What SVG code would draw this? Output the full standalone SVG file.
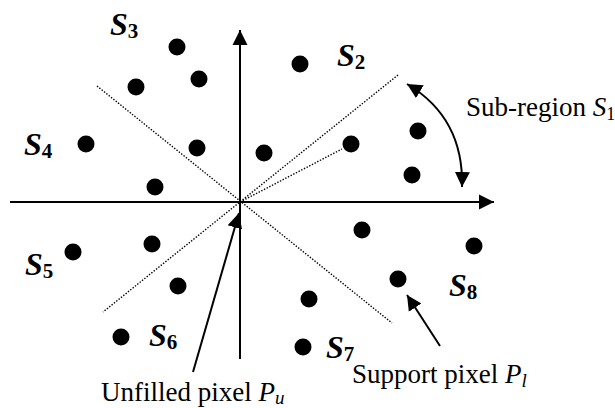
<svg xmlns="http://www.w3.org/2000/svg" width="615" height="408" viewBox="0 0 615 408">
<style>
.ax{stroke:#000;stroke-width:2;fill:none}
.dot{stroke:#000;stroke-width:1.4;stroke-dasharray:1.4 1.6;fill:none}
.pt{fill:#000}
.lbl{font-family:"Liberation Serif","Times New Roman",serif;font-size:32px;font-weight:bold;font-style:italic;fill:#000}
.sub{font-style:normal;font-size:21px}
.txt{font-family:"Liberation Serif","Times New Roman",serif;font-size:27px;fill:#000}
.it{font-style:italic}
.isub{font-style:italic;font-size:19px}
</style>
<defs>
<marker id="ah" markerWidth="16" markerHeight="16" viewBox="0 0 16 16" refX="15" refY="8" orient="auto-start-reverse" markerUnits="userSpaceOnUse">
<path d="M0,0.5 L15,8 L0,15.5 Z" fill="#000"/>
</marker>
</defs>
<g id="connectors">
<line class="ax" x1="10" y1="202" x2="494" y2="202" marker-end="url(#ah)"/>
<line class="ax" x1="240" y1="359" x2="240" y2="30" marker-end="url(#ah)"/>
<line class="dot" x1="97" y1="86" x2="392" y2="323"/>
<line class="dot" x1="398" y1="75" x2="103" y2="312"/>
<line class="dot" x1="240" y1="202" x2="342" y2="149"/>
<path class="ax" d="M407,84 Q464,118 462,187" marker-start="url(#ah)" marker-end="url(#ah)"/>
<line class="ax" x1="193" y1="372" x2="239" y2="213" marker-end="url(#ah)"/>
<line class="ax" x1="440" y1="346" x2="407" y2="295" marker-end="url(#ah)"/>
</g>
<g id="points">
<circle class="pt" cx="177" cy="47" r="8.5"/>
<circle class="pt" cx="199" cy="79" r="8.5"/>
<circle class="pt" cx="136" cy="87" r="8.5"/>
<circle class="pt" cx="300" cy="64" r="8.5"/>
<circle class="pt" cx="86" cy="144" r="8.5"/>
<circle class="pt" cx="197" cy="148" r="8.5"/>
<circle class="pt" cx="264" cy="153" r="8.5"/>
<circle class="pt" cx="155" cy="187" r="8.5"/>
<circle class="pt" cx="418" cy="131" r="8.5"/>
<circle class="pt" cx="351" cy="144" r="8.5"/>
<circle class="pt" cx="412" cy="175" r="8.5"/>
<circle class="pt" cx="73" cy="252" r="8.5"/>
<circle class="pt" cx="152" cy="244" r="8.5"/>
<circle class="pt" cx="178" cy="286" r="8.5"/>
<circle class="pt" cx="121" cy="337" r="8.5"/>
<circle class="pt" cx="309" cy="299" r="8.5"/>
<circle class="pt" cx="303" cy="347" r="8.5"/>
<circle class="pt" cx="362" cy="230" r="8.5"/>
<circle class="pt" cx="474" cy="246" r="8.5"/>
<circle class="pt" cx="398" cy="279" r="8.5"/>
</g>
<g id="S1"><text class="txt" x="466" y="116" font-size="26">Sub-region <tspan class="it">S</tspan><tspan dy="4" font-size="18">1</tspan></text></g>
<g id="S2"><text class="lbl" x="337" y="66">S<tspan class="sub" dy="3">2</tspan></text></g>
<g id="S3"><text class="lbl" x="110" y="35">S<tspan class="sub" dy="3">3</tspan></text></g>
<g id="S4"><text class="lbl" x="24" y="155">S<tspan class="sub" dy="3">4</tspan></text></g>
<g id="S5"><text class="lbl" x="25" y="275">S<tspan class="sub" dy="3">5</tspan></text></g>
<g id="S6"><text class="lbl" x="149" y="346">S<tspan class="sub" dy="3">6</tspan></text></g>
<g id="S7"><text class="lbl" x="326" y="358">S<tspan class="sub" dy="3">7</tspan></text></g>
<g id="S8"><text class="lbl" x="449" y="296">S<tspan class="sub" dy="3">8</tspan></text></g>
<g id="Pu"><text class="txt" x="101" y="401">Unfilled pixel <tspan class="it">P</tspan><tspan class="isub" dy="3">u</tspan></text></g>
<g id="Pl"><text class="txt" x="352" y="383">Support pixel <tspan class="it">P</tspan><tspan class="isub" dy="4">l</tspan></text></g>
</svg>
